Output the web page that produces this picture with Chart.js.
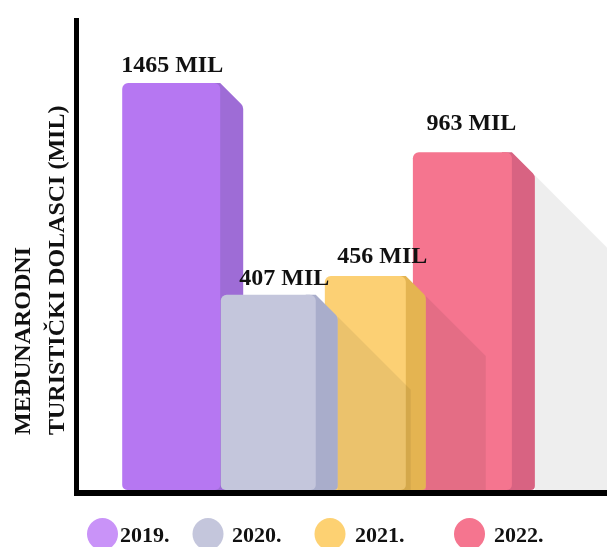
<!DOCTYPE html>
<html>
<head>
<meta charset="utf-8">
<title>Međunarodni turistički dolasci</title>
<script src="https://cdn.jsdelivr.net/npm/chart.js@4.4.1/dist/chart.umd.min.js"></script>
<style>
  html, body { margin: 0; padding: 0; background: #fff; }
  #wrap { width: 607px; height: 547px; position: relative; }
</style>
</head>
<body>
<div id="wrap"><canvas id="arrivalsChart"></canvas></div>
<script>
// data
const years = ['2019.', '2020.', '2021.', '2022.'];
const arrivals = [1465, 407, 456, 963]; // millions
const unit = 'MIL';
const yTitle = ['MEĐUNARODNI', 'TURISTIČKI DOLASCI (MIL)'];

// look of the bars
const frontColors = ['#b677f2', '#c4c6dc', '#fcd074', '#f5758f'];
const sideColors = ['#9e6cd6', '#a9adcb', '#e4b451', '#d86382'];
const legendColors = ['#c993f8', '#c4c6dc', '#fdd172', '#f5758f'];
const barWidths = [98, 95, 81, 99];
const sideWidths = [23, 22, 20, 23];
const shadowLengths = [0, 73, 60, 80];
const drawOrder = [2, 0, 1, 3]; // 2020 sits in front, 2022 at the back
const labelNudge = [[1, -11], [16, -10], [17, -13], [9, -22]];

const FONT = "'Liberation Serif', 'Times New Roman', serif";
const INK = '#111';

// 3d side face + drop shadow, painted under each front face
const barFaces = {
  id: 'barFaces',
  beforeDatasetDraw(chart, args) {
    const i = args.index;
    const bar = args.meta.data[0];
    if (!bar) return;
    const ctx = chart.ctx;
    const s = sideWidths[i];
    const xr = bar.x + bar.width / 2;
    const top = bar.y;
    const base = bar.base;
    ctx.save();
    const L = shadowLengths[i];
    if (L > 0) {
      ctx.fillStyle = 'rgba(0,0,0,0.065)';
      ctx.beginPath();
      ctx.moveTo(xr + s, top + s);
      ctx.lineTo(xr + s + L, top + s + L);
      ctx.lineTo(xr + s + L, base);
      ctx.lineTo(xr + s, base);
      ctx.closePath();
      ctx.fill();
    }
    ctx.fillStyle = sideColors[i];
    ctx.beginPath();
    ctx.moveTo(xr - 10, top);
    ctx.lineTo(xr, top);
    ctx.lineTo(xr + s - 2, top + s - 2);
    ctx.quadraticCurveTo(xr + s, top + s, xr + s, top + s + 3);
    ctx.lineTo(xr + s, base - 4);
    ctx.quadraticCurveTo(xr + s, base, xr + s - 4, base);
    ctx.lineTo(xr - 10, base);
    ctx.closePath();
    ctx.fill();
    ctx.restore();
  },
  afterDatasetsDraw(chart) {
    const ctx = chart.ctx;
    ctx.save();
    ctx.fillStyle = INK;
    ctx.font = 'bold 24px ' + FONT;
    ctx.textAlign = 'center';
    ctx.textBaseline = 'alphabetic';
    chart.data.datasets.forEach((ds, i) => {
      const bar = chart.getDatasetMeta(i).data[0];
      ctx.fillText(arrivals[i] + ' ' + unit, bar.x + labelNudge[i][0], bar.y + labelNudge[i][1]);
    });
    ctx.restore();
  },
  afterDraw(chart) {
    const ctx = chart.ctx;
    const a = chart.chartArea;
    ctx.save();
    // axis lines
    ctx.fillStyle = '#000';
    ctx.fillRect(a.left - 5, a.top, 5, a.bottom - a.top + 6);
    ctx.fillRect(a.left - 5, a.bottom, a.right - a.left + 5, 6);

    // rotated y title
    ctx.fillStyle = INK;
    ctx.font = 'bold 24px ' + FONT;
    ctx.textAlign = 'left';
    ctx.textBaseline = 'alphabetic';
    const titleX = [30, 63.5];
    yTitle.forEach((line, k) => {
      ctx.save();
      ctx.translate(titleX[k], 435);
      ctx.rotate(-Math.PI / 2);
      ctx.fillText(line, 0, 0);
      ctx.restore();
    });

    // legend
    const dotX = [102.5, 208, 330, 469.5];
    const textX = [120, 232, 355, 494];
    ctx.font = 'bold 22px ' + FONT;
    years.forEach((yr, i) => {
      ctx.fillStyle = legendColors[i];
      ctx.beginPath();
      ctx.ellipse(dotX[i], 534, 15.5, 16, 0, 0, Math.PI * 2);
      ctx.fill();
      ctx.fillStyle = INK;
      ctx.fillText(yr, textX[i], 542);
    });
    ctx.restore();
  }
};

const xMin = -0.95, xMax = 4.49;

const datasets = years.map((yr, i) => ({
  label: yr,
  data: [{ x: i, y: arrivals[i] }],
  backgroundColor: frontColors[i],
  borderWidth: 0,
  borderSkipped: false,
  borderRadius: { topLeft: 6, topRight: 6, bottomLeft: 5, bottomRight: 5 },
  grouped: false,
  categoryPercentage: 1,
  barPercentage: 1.1,
  maxBarThickness: barWidths[i],
  order: drawOrder[i]
}));

const ctx = document.getElementById('arrivalsChart');
new Chart(ctx, {
  type: 'bar',
  data: { datasets: datasets },
  options: {
    responsive: true,
    maintainAspectRatio: false,
    animation: false,
    layout: { padding: { left: 79, right: 0, top: 18, bottom: 57 } },
    scales: {
      x: {
        type: 'linear',
        display: false,
        offset: false,
        min: xMin,
        max: xMax,
        bounds: 'data',
        afterBuildTicks: (scale) => {
          // one tick per year so the bar ruler sees a one-unit step
          scale.ticks = years.map((yr, i) => ({ value: i }));
        }
      },
      y: {
        type: 'logarithmic',
        display: false,
        min: 125,
        max: 2170,
        bounds: 'data'
      }
    },
    plugins: {
      legend: { display: false },
      tooltip: { enabled: false }
    }
  },
  plugins: [barFaces]
});
</script>
</body>
</html>
